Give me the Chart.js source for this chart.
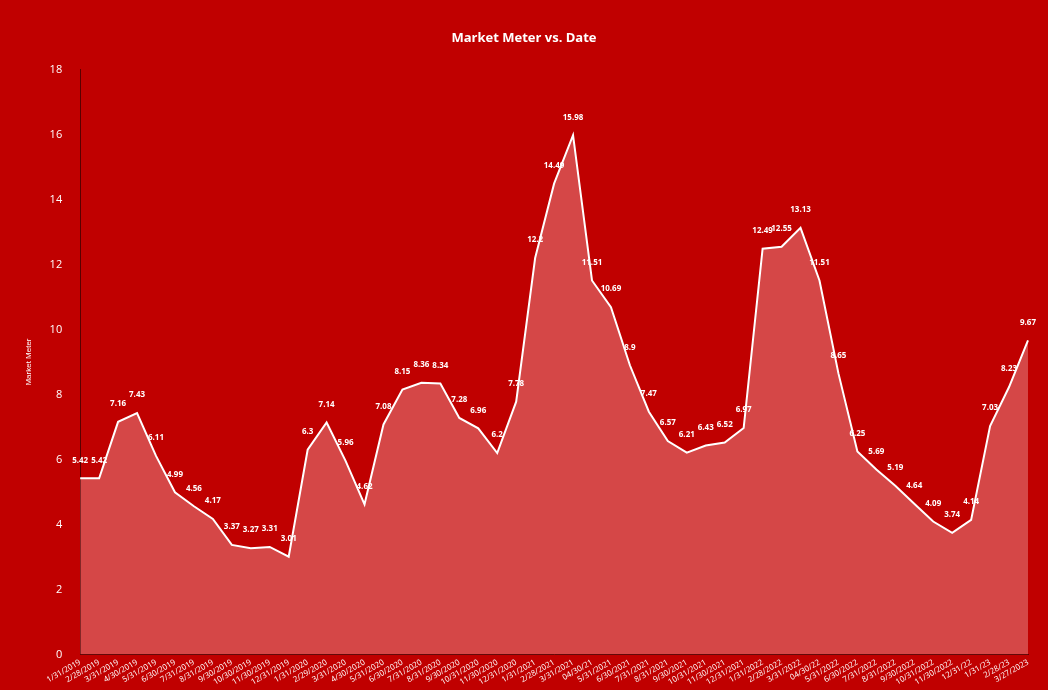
<!DOCTYPE html>
<html>
<head>
<meta charset="utf-8">
<script src="https://cdn.jsdelivr.net/npm/chart.js@4/dist/chart.umd.min.js"></script>
<style>
html, body { margin:0; padding:0; background:#c00000; }
#wrap { width:1048px; height:690px; position:relative; }
</style>
</head>
<body>
<div id="wrap"><canvas id="myChart"></canvas></div>
<script>
var dates = ["1/31/2019","2/28/2019","3/31/2019","4/30/2019","5/31/2019","6/30/2019","7/31/2019","8/31/2019","9/30/2019","10/30/2019","11/30/2019","12/31/2019",
    "1/31/2020","2/29/2020","3/31/2020","4/30/2020","5/31/2020","6/30/2020","7/31/2020","8/31/2020","9/30/2020","10/31/2020","11/30/2020","12/31/2020",
    "1/31/2021","2/28/2021","3/31/2021","04/30/21","5/31/2021","6/30/2021","7/31/2021","8/31/2021","9/30/2021","10/31/2021","11/30/2021","12/31/2021",
    "1/31/2022","2/28/2022","3/31/2022","04/30/22","5/31/2022","6/30/2022","7/31/2022","8/31/2022","9/30/2022","10/31/2022","11/30/2022","12/31/22",
    "1/31/23","2/28/23","3/27/2023"];
var marketMeter = [5.42,5.42,7.16,7.43,6.11,4.99,4.56,4.17,3.37,3.27,3.31,3.01,
    6.3,7.14,5.96,4.62,7.08,8.15,8.36,8.34,7.28,6.96,6.2,7.78,
    12.2,14.49,15.98,11.51,10.69,8.9,7.47,6.57,6.21,6.43,6.52,6.97,
    12.49,12.55,13.13,11.51,8.65,6.25,5.69,5.19,4.64,4.09,3.74,4.14,
    7.03,8.23,9.67];

// draws the value above each point
var valueLabels = {
    id: 'valueLabels',
    afterDatasetsDraw: function(chart) {
        var ctx = chart.ctx;
        var meta = chart.getDatasetMeta(0);
        ctx.save();
        ctx.fillStyle = "#fff";
        ctx.font = "bold 8px 'Open Sans', sans-serif";
        ctx.textAlign = "center";
        ctx.textBaseline = "bottom";
        meta.data.forEach(function(pt, i) {
            ctx.fillText(String(marketMeter[i]), pt.x, pt.y - 14);
        });
        ctx.restore();
    }
};

var ctx = document.getElementById("myChart").getContext("2d");
new Chart(ctx, {
    type: 'line',
    data: {
        labels: dates,
        datasets: [{
            data: marketMeter,
            borderColor: "#ffffff",
            borderWidth: 2,
            backgroundColor: "rgba(230,130,130,0.55)",
            fill: 'origin',
            pointRadius: 0,
            tension: 0
        }]
    },
    options: {
        responsive: true,
        maintainAspectRatio: false,
        animation: false,
        layout: { padding: { top: 20, right: 20, left: 20, bottom: 0 } },
        plugins: {
            legend: { display: false },
            tooltip: { enabled: false },
            title: {
                display: true,
                text: "Market Meter vs. Date",
                color: "#fff",
                font: { size: 13, weight: 'bold', family: "'Open Sans', sans-serif" },
                padding: { top: 10, bottom: 24 }
            }
        },
        scales: {
            x: {
                offset: false,
                grid: { display: false, drawTicks: false },
                border: { color: "#5a0000" },
                ticks: { color: "#fff", autoSkip: false, maxRotation: 30, minRotation: 30,
                    font: { size: 8, family: "'Open Sans', sans-serif" } }
            },
            y: {
                min: 0, max: 18,
                grid: { display: false, drawTicks: true, tickLength: 6, color: "#5a0000" },
                border: { color: "#5a0000" },
                ticks: { stepSize: 2, color: "#fff", padding: 12, font: { size: 11, family: "'Open Sans', sans-serif" } },
                title: { display: true, text: "Market Meter", color: "#fff", font: { size: 8 } }
            }
        }
    },
    plugins: [valueLabels]
});
</script>
</body>
</html>
